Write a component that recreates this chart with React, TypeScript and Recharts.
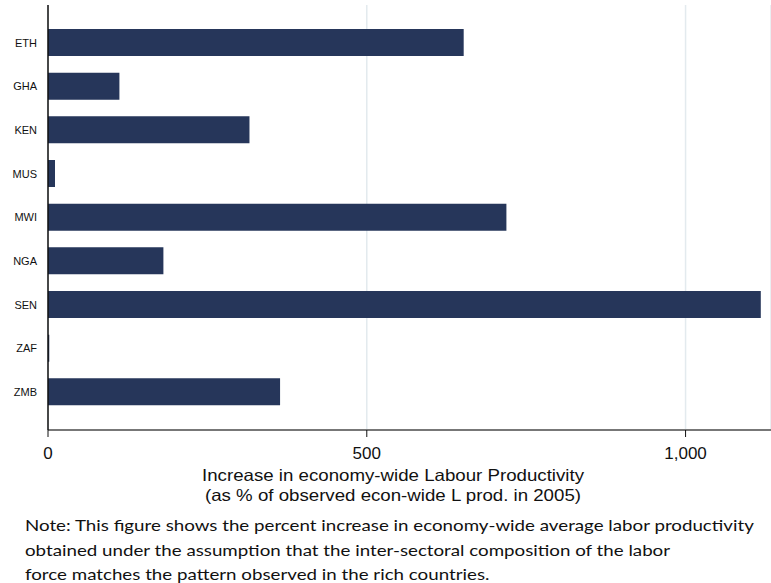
import { Bar, BarChart, CartesianGrid, XAxis, YAxis } from 'recharts';

const countries = ['ETH', 'GHA', 'KEN', 'MUS', 'MWI', 'NGA', 'SEN', 'ZAF', 'ZMB'];
const increase = [652, 112, 316, 11, 719, 181, 1118, 2, 364];
const xTicks = [0, 500, 1000];
const titleLines = [
  'Increase in economy-wide Labour Productivity',
  '(as % of observed econ-wide L prod. in 2005)',
];
const noteLines = [
  'Note: This figure shows the percent increase in economy-wide average labor productivity',
  'obtained under the assumption that the inter-sectoral composition of the labor',
  'force matches the pattern observed in the rich countries.',
];

const data = countries.map((country, i) => ({ country, value: increase[i] }));

const sans = '"Liberation Sans", Arial, sans-serif';

function AxisTitle({ viewBox }: any) {
  const cx = 393;
  const y = viewBox.y + viewBox.height;
  return (
    <g>
      <text
        x={cx}
        y={y + 21}
        textAnchor="middle"
        fill="#111"
        fontFamily={sans}
        fontSize={16.5}
        textLength={382}
        lengthAdjust="spacingAndGlyphs"
      >
        {titleLines[0]}
      </text>
      <text
        x={cx}
        y={y + 41}
        textAnchor="middle"
        fill="#111"
        fontFamily={sans}
        fontSize={16.5}
        textLength={376}
        lengthAdjust="spacingAndGlyphs"
      >
        {titleLines[1]}
      </text>
    </g>
  );
}

export default function App() {
  return (
    <div style={{ position: 'absolute', left: 0, top: 0, width: 771, height: 583, background: '#fff' }}>
      <BarChart
        width={771}
        height={583}
        data={data}
        layout="vertical"
        margin={{ top: 5, right: 0, bottom: 123, left: 0 }}
        barCategoryGap={0}
      >
        <CartesianGrid horizontal={false} stroke="#e3eaee" strokeWidth={1.5} />
        <XAxis
          type="number"
          domain={[0, 1134]}
          ticks={xTicks}
          tickFormatter={(v) => Number(v).toLocaleString('en-US')}
          axisLine={{ stroke: '#777', strokeWidth: 2 }}
          tickLine={{ stroke: '#111' }}
          tickSize={7}
          tickMargin={10}
          tick={{ fill: '#111', fontSize: 17, fontFamily: sans }}
          allowDataOverflow
          label={<AxisTitle />}
        />
        <YAxis
          type="category"
          dataKey="country"
          width={48}
          padding={{ top: 16, bottom: 16 }}
          axisLine={{ stroke: '#111', strokeWidth: 1.5 }}
          tickLine={false}
          tickMargin={5}
          tick={{ fill: '#111', fontSize: 11, fontFamily: sans }}
        />
        <Bar dataKey="value" fill="#26365a" barSize={27} isAnimationActive={false} />
      </BarChart>
      <div
        style={{
          position: 'absolute',
          left: 25,
          top: 513,
          fontFamily: 'Lato, "Open Sans", sans-serif',
          fontSize: 16,
          lineHeight: '24.5px',
          color: '#111',
          whiteSpace: 'nowrap',
          transform: 'scaleX(1.17)',
          transformOrigin: 'left top',
        }}
      >
        {noteLines.map((line) => (
          <div key={line}>{line}</div>
        ))}
      </div>
    </div>
  );
}
